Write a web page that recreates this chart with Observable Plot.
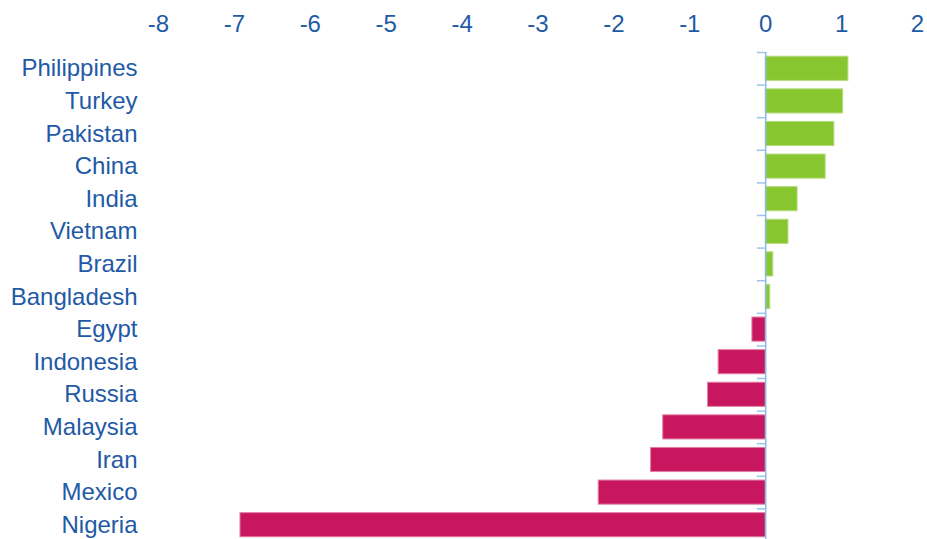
<!DOCTYPE html>
<html>
<head>
<meta charset="utf-8">
<script src="https://cdn.jsdelivr.net/npm/d3@7"></script>
<script src="https://cdn.jsdelivr.net/npm/@observablehq/plot@0.6"></script>
<style>
  html, body { margin: 0; padding: 0; background: #fff; overflow: hidden; }
</style>
</head>
<body>
<div id="chart"></div>
<script>
const countries = ["Philippines", "Turkey", "Pakistan", "China", "India", "Vietnam", "Brazil", "Bangladesh", "Egypt", "Indonesia", "Russia", "Malaysia", "Iran", "Mexico", "Nigeria"];
const values = [1.09, 1.02, 0.905, 0.79, 0.42, 0.30, 0.10, 0.06, -0.175, -0.62, -0.76, -1.35, -1.51, -2.20, -6.92];
const xTicks = [-8, -7, -6, -5, -4, -3, -2, -1, 0, 1, 2];

const data = countries.map((c, i) => ({country: c, value: values[i]}));

const W = 927, H = 541, MT = 52;
const step = (H - MT) / countries.length;

const chart = Plot.plot({
  width: W,
  height: H,
  marginTop: MT,
  marginBottom: 0,
  marginLeft: 158,
  marginRight: 10,
  style: {fontFamily: "'Liberation Sans', Arial, sans-serif", fontSize: "22px", color: "#1F5AA6", background: "#fff"},
  x: {domain: [-8, 2], ticks: xTicks, axis: null, label: null},
  y: {domain: countries, paddingInner: 0.26, paddingOuter: 0.13, round: false, axis: null, label: null},
  marks: [
    Plot.axisX({anchor: "top", ticks: xTicks, tickSize: 0, tickPadding: 21, tickFormat: d => String(d), fill: "#1F5AA6", fontSize: 24, label: null}),
    Plot.axisY({anchor: "left", tickSize: 0, tickPadding: 21, fill: "#1F5AA6", fontSize: 24, label: null}),
    Plot.barX(data, {
      y: "country",
      x: "value",
      fill: d => d.value >= 0 ? "#88C630" : "#C8175E",
      stroke: d => d.value >= 0 ? "#B4DC7E" : "#E07FA5",
      strokeWidth: 1
    }),
    Plot.ruleY(countries, {y: d => d, x1: -0.11, x2: 0, dy: -step / 2, stroke: "#9CC3EC", strokeWidth: 1.5}),
    Plot.ruleX([0], {stroke: "#8DB8E8", strokeWidth: 1.5})
  ]
});

document.getElementById("chart").appendChild(chart);
</script>
</body>
</html>
